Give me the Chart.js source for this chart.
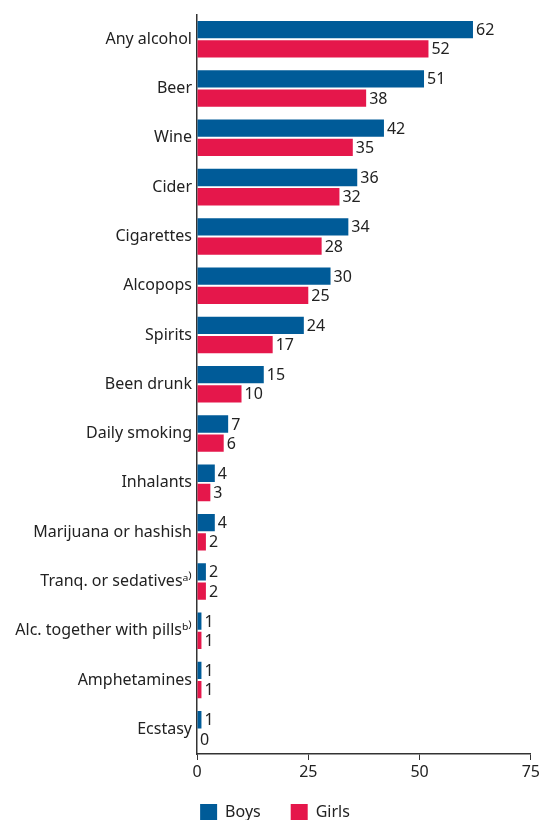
<!DOCTYPE html>
<html>
<head>
<meta charset="utf-8">
<script src="https://cdn.jsdelivr.net/npm/chart.js@4"></script>
<style>
  html, body { margin: 0; padding: 0; background: #fff; }
  #chart-container { width: 543px; height: 820px; }
</style>
</head>
<body>
<div id="chart-container"><canvas id="substancechart"></canvas></div>
<script>
const categories = [
    'Any alcohol', 'Beer', 'Wine', 'Cider', 'Cigarettes', 'Alcopops', 'Spirits',
    'Been drunk', 'Daily smoking', 'Inhalants', 'Marijuana or hashish',
    'Tranq. or sedatives\u1d43\u207e', 'Alc. together with pills\u1d47\u207e',
    'Amphetamines', 'Ecstasy'
];
const boys = [62, 51, 42, 36, 34, 30, 24, 15, 7, 4, 4, 2, 1, 1, 1];
const girls = [52, 38, 35, 32, 28, 25, 17, 10, 6, 3, 2, 2, 1, 1, 0];
const xTicks = [0, 25, 50, 75];

const textColor = '#222';
const fontFamily = "'Noto Sans', sans-serif";

// draws the value at the end of each bar
const valueLabels = {
    id: 'valueLabels',
    afterDatasetsDraw(chart) {
        const ctx = chart.ctx;
        ctx.save();
        ctx.font = '16px ' + fontFamily;
        ctx.fillStyle = textColor;
        ctx.textAlign = 'left';
        ctx.textBaseline = 'middle';
        chart.data.datasets.forEach((ds, i) => {
            chart.getDatasetMeta(i).data.forEach((bar, j) => {
                ctx.fillText(ds.data[j], bar.x + 3, bar.y + 1);
            });
        });
        ctx.restore();
    }
};

// legend sits a fixed distance below the plot, like the original
const legendOffset = {
    id: 'legendOffset',
    afterLayout(chart) {
        const lg = chart.legend;
        if (!lg) return;
        const h = lg.bottom - lg.top;
        lg.top = chart.chartArea.bottom + 20;
        lg.bottom = lg.top + h;
    }
};

const ctx = document.getElementById('substancechart').getContext('2d');
const config = {
    type: 'bar',
    data: {
        labels: categories,
        datasets: [{
            label: 'Boys',
            data: boys,
            backgroundColor: '#005b98',
            categoryPercentage: 0.78,
            barPercentage: 0.9
        }, {
            label: 'Girls',
            data: girls,
            backgroundColor: '#e5174b',
            categoryPercentage: 0.78,
            barPercentage: 0.9
        }]
    },
    options: {
        indexAxis: 'y',
        responsive: true,
        maintainAspectRatio: false,
        animation: false,
        layout: {
            padding: { top: 13, left: 7, right: 0, bottom: -23 }
        },
        scales: {
            x: {
                min: 0,
                max: 75,
                afterBuildTicks: (scale) => {
                    scale.ticks = xTicks.map(v => ({ value: v }));
                },
                afterFit: (scale) => { scale.height = 32; },
                grid: {
                    drawOnChartArea: false,
                    tickLength: 6,
                    color: '#333'
                },
                border: { color: '#333', width: 1.5 },
                ticks: {
                    color: textColor,
                    font: { size: 16, family: fontFamily },
                    padding: 3,
                    maxRotation: 0
                }
            },
            y: {
                afterFit: (scale) => { scale.width = 190; },
                grid: {
                    drawOnChartArea: false,
                    drawTicks: false
                },
                border: { color: '#333', width: 1.5 },
                ticks: {
                    color: textColor,
                    font: { size: 16, family: fontFamily },
                    padding: 5
                }
            }
        },
        plugins: {
            legend: {
                position: 'bottom',
                labels: {
                    boxWidth: 17,
                    boxHeight: 17,
                    padding: 30,
                    color: textColor,
                    font: { size: 16, family: fontFamily }
                }
            },
            tooltip: { enabled: false }
        }
    },
    plugins: [valueLabels, legendOffset]
};

const myChart = new Chart(ctx, config);
</script>
</body>
</html>
